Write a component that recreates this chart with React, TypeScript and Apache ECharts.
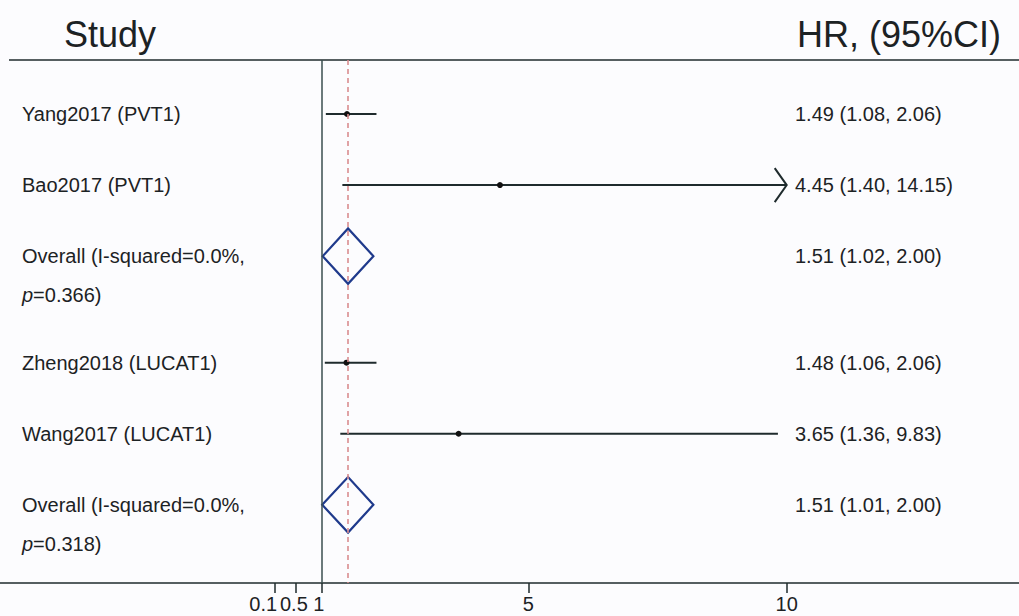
import React, { useEffect, useRef } from "react";
import * as echarts from "echarts";

// Forest plot: hazard ratios with 95% confidence intervals
const studyLabels = [
  "Yang2017 (PVT1)",
  "Bao2017 (PVT1)",
  "Overall (I-squared=0.0%,",
  "Zheng2018 (LUCAT1)",
  "Wang2017 (LUCAT1)",
  "Overall (I-squared=0.0%,",
];
const pooledP = ["", "", "0.366", "", "", "0.318"];
const rowPos = [1, 2, 3, 4.5, 5.5, 6.5];
const hr = [1.49, 4.45, 1.51, 1.48, 3.65, 1.51];
const lower = [1.08, 1.4, 1.02, 1.06, 1.36, 1.01];
const upper = [2.06, 14.15, 2.0, 2.06, 9.83, 2.0];
const isOverall = [false, false, true, false, false, true];
const tickValues = [0.1, 0.5, 1, 5, 10];
const nullEffect = 1;
const pooledEffect = 1.51;
const ciClip = 10;

const FONT = "'Liberation Sans', Arial, Helvetica, sans-serif";
const INK = "#1c2224";
const LINE = "#1f2b2d";
const DIAMOND = "#1f3a8c";
const REF_DASH = "#d98c8f";

// small leftward nudges so crowded tick labels sit like the plotting package draws them
const labelShift: Record<string, number> = { "0.1": 24, "0.5": 4, "1": 6, "5": 0, "10": 0 };

export default function App() {
  const ref = useRef<HTMLDivElement>(null);

  useEffect(() => {
    document.body.style.margin = "0";
    const chart = echarts.init(ref.current!, null, { renderer: "svg" });

    const rows = rowPos.map((r, i) => [r, hr[i], lower[i], upper[i], i]);

    const option: any = {
      animation: false,
      backgroundColor: "#fcfcfe",
      grid: { left: 0, right: 0, top: 60, bottom: 33 },
      xAxis: {
        type: "value",
        min: -5.2265,
        max: 14.496,
        splitLine: { show: false },
        axisLine: { show: true, lineStyle: { color: LINE, width: 1.5 } },
        axisTick: {
          show: true,
          customValues: tickValues,
          length: 10,
          lineStyle: { color: LINE, width: 1.5 },
        },
        axisLabel: {
          show: true,
          customValues: tickValues,
          margin: 11,
          formatter: (v: number) => {
            const s = String(v);
            return `{t${s.replace(".", "_")}|${s}}`;
          },
          rich: Object.fromEntries(
            tickValues.map((v) => {
              const s = String(v);
              return [
                "t" + s.replace(".", "_"),
                {
                  fontSize: 20,
                  fontFamily: FONT,
                  color: INK,
                  padding: [0, labelShift[s], 0, 0],
                },
              ];
            })
          ),
        },
      },
      yAxis: {
        type: "value",
        inverse: true,
        min: 0.24,
        max: 7.6,
        show: false,
      },
      graphic: [
        {
          type: "line",
          shape: { x1: 9, y1: 60, x2: 1019, y2: 60 },
          style: { stroke: LINE, lineWidth: 1.5 },
        },
        {
          type: "text",
          x: 64,
          y: 34,
          style: {
            text: "Study",
            fontSize: 36,
            fontFamily: FONT,
            fill: INK,
            align: "left",
            verticalAlign: "middle",
          },
        },
        {
          type: "text",
          x: 1001,
          y: 34,
          style: {
            text: "HR, (95%CI)",
            fontSize: 36,
            fontFamily: FONT,
            fill: INK,
            align: "right",
            verticalAlign: "middle",
          },
        },
      ],
      series: [
        {
          type: "custom",
          clip: false,
          data: rows,
          encode: { x: [1, 2, 3], y: 0 },
          markLine: {
            silent: true,
            symbol: "none",
            label: { show: false },
            data: [
              { xAxis: nullEffect, lineStyle: { color: "#3b4f4f", width: 1.5, type: "solid" } },
              { xAxis: pooledEffect, lineStyle: { color: REF_DASH, width: 1.6, type: [5, 4] } },
            ],
          },
          renderItem: (params: any, api: any) => {
            const i = params.dataIndex;
            const y = api.coord([0, rowPos[i]])[1];
            const xLo = api.coord([lower[i], rowPos[i]])[0];
            const xEst = api.coord([hr[i], rowPos[i]])[0];
            const clipped = upper[i] > ciClip;
            const xHi = api.coord([clipped ? ciClip : upper[i], rowPos[i]])[0];
            const children: any[] = [];

            if (isOverall[i]) {
              const h = api.size([0, 0.39])[1];
              children.push({
                type: "polygon",
                shape: {
                  points: [
                    [xLo, y],
                    [xEst, y - h],
                    [xHi, y],
                    [xEst, y + h],
                  ],
                },
                style: { fill: "none", stroke: DIAMOND, lineWidth: 2.2 },
              });
            } else {
              children.push({
                type: "line",
                shape: { x1: xLo, y1: y, x2: xHi, y2: y },
                style: { stroke: LINE, lineWidth: 2 },
              });
              children.push({
                type: "circle",
                shape: { cx: xEst, cy: y, r: 3 },
                style: { fill: "#111" },
              });
              if (clipped) {
                children.push({
                  type: "polyline",
                  shape: {
                    points: [
                      [xHi - 12, y - 17],
                      [xHi, y],
                      [xHi - 12, y + 17],
                    ],
                  },
                  style: { fill: "none", stroke: LINE, lineWidth: 2 },
                });
              }
            }

            children.push({
              type: "text",
              style: {
                text: studyLabels[i],
                x: 22,
                y: y,
                fontSize: 20,
                fontFamily: FONT,
                fill: INK,
                align: "left",
                verticalAlign: "middle",
              },
            });
            if (pooledP[i]) {
              children.push({
                type: "text",
                style: {
                  text: `{i|p}=${pooledP[i]})`,
                  x: 22,
                  y: y + 39,
                  fontSize: 20,
                  fontFamily: FONT,
                  fill: INK,
                  align: "left",
                  verticalAlign: "middle",
                  rich: {
                    i: { fontStyle: "italic", fontSize: 20, fontFamily: FONT, fill: INK },
                  },
                },
              });
            }
            children.push({
              type: "text",
              style: {
                text: `${hr[i].toFixed(2)} (${lower[i].toFixed(2)}, ${upper[i].toFixed(2)})`,
                x: 795,
                y: y,
                fontSize: 20,
                fontFamily: FONT,
                fill: INK,
                align: "left",
                verticalAlign: "middle",
              },
            });

            return { type: "group", children };
          },
        },
      ],
    };

    chart.setOption(option);
    return () => chart.dispose();
  }, []);

  return <div ref={ref} style={{ width: 1019, height: 616 }} />;
}
